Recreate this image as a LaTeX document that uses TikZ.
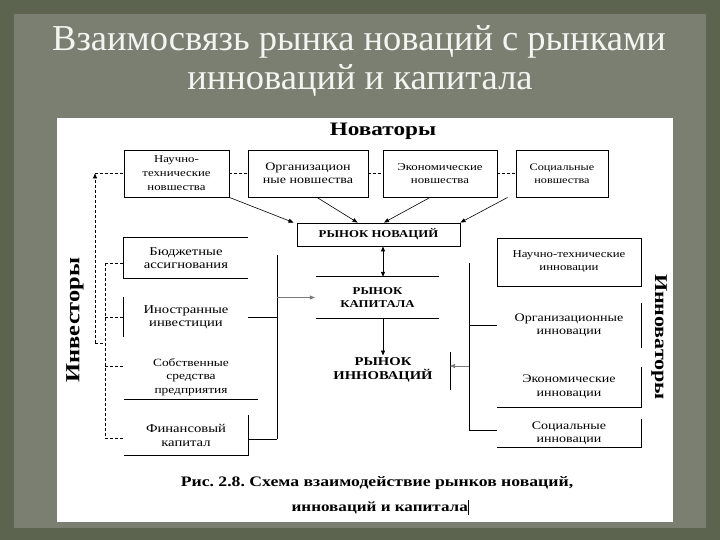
\documentclass[tikz,border=0pt]{standalone}
\usepackage{fontspec}
\setmainfont{Liberation Serif}[BoldFont={Liberation Serif Bold}]
\newfontfamily\dgfont{Liberation Serif}[FakeStretch=1.22, BoldFont={Liberation Serif Bold}, BoldFeatures={FakeStretch=1.22}]
\usetikzlibrary{arrows.meta,calc}
\definecolor{outerbg}{HTML}{5C6450}
\definecolor{innerbg}{HTML}{7B7F72}
\definecolor{titlec}{HTML}{F4F4F0}
\definecolor{thinc}{HTML}{7A7A7A}
\newcommand\dgf[2]{\dgfont\fontsize{#1}{#2}\selectfont}
\newcommand\dgb[2]{\dgfont\bfseries\fontsize{#1}{#2}\selectfont}
\frenchspacing
\begin{document}
\begin{tikzpicture}[x=1pt,y=-1pt,
  cell/.style={inner sep=0pt, align=center},
  boxed/.style={cell, draw=black, line width=0.9pt},
  frame/.style={draw=black, line width=0.9pt},
  wire/.style={draw=black, line width=0.8pt},
  dwire/.style={draw=black, line width=0.6pt, dash pattern=on 3pt off 2pt},
  gwire/.style={draw=thinc, line width=0.6pt},
  tip/.style={-{Triangle[length=5pt,width=4pt]}},
  dtip/.style={{Triangle[length=5pt,width=4pt]}-{Triangle[length=5pt,width=4pt]}}]
\useasboundingbox (0,0) rectangle (720,540);
\fill[outerbg] (0,0) rectangle (720,540);
\fill[innerbg] (14,14) rectangle (706,528);
\fill[white] (57,118) rectangle (673,522);

% title
\node[text=titlec, font=\fontsize{36.5}{40}\selectfont] (t1) at (359,42) {Взаимосвязь рынка новаций с рынками};
\node[text=titlec, font=\fontsize{36.5}{40}\selectfont] (t2) at (360,81) {инноваций и капитала};

% header
\node[cell, font=\dgb{19}{20}] (nov) at (383,131) {Новаторы};

% top boxes
\node[boxed, minimum width=105pt, minimum height=47pt, font=\dgf{10.5}{14}] (n1) at (176.5,173.5) {Научно-\\технические\\новшества};
\node[boxed, minimum width=120pt, minimum height=47pt, font=\dgf{11.5}{13}] (n2) at (308,173.5) {Организацион\\ные новшества};
\node[boxed, minimum width=114pt, minimum height=47pt, font=\dgf{10.5}{12.5}] (n3) at (440,173.5) {Экономические\\новшества};
\node[boxed, minimum width=92pt, minimum height=47pt, font=\dgf{10}{12.5}] (n4) at (562,173.5) {Социальные\\новшества};

% centre
\node[boxed, minimum width=163pt, minimum height=23pt, font=\dgb{10.5}{12}] (rn) at (378.5,234.5) {РЫНОК НОВАЦИЙ};
\node[cell, minimum width=123pt, minimum height=41pt, font=\dgb{10.5}{13.5}] (rk) at (377.5,297.5) {РЫНОК\\КАПИТАЛА};
\node[cell, inner sep=2pt, font=\dgb{12}{14}] (ri) at (383,370) {РЫНОК\\ИННОВАЦИЙ};
\draw[frame] (rk.north west) -- (rk.north east);
\draw[frame] (rk.south west) -- (rk.south east);

% left boxes
\node[cell, minimum width=124pt, minimum height=40pt, font=\dgf{12}{13.5}] (b1) at (186,258) {Бюджетные\\ассигнования};
\node[cell, minimum width=124pt, minimum height=40pt, font=\dgf{12}{13.5}] (b2) at (186,317) {Иностранные\\инвестиции};
\node[cell, minimum width=134pt, minimum height=44pt, font=\dgf{11}{13.5}] (b3) at (191,377) {Собственные\\средства\\предприятия};
\node[cell, minimum width=124pt, minimum height=40pt, font=\dgf{12}{14}] (b4) at (186,435) {Финансовый\\капитал};
\draw[frame] (b1.north east) -- (b1.north west) -- (b1.south west) -- (b1.south east);
\draw[frame] (b2.north west) -- (b2.south west);
\draw[frame] (b3.south west) -- (b3.south east);
\draw[frame] (b4.north east) -- (b4.south east) -- (b4.south west);

% right boxes
\node[boxed, minimum width=144pt, minimum height=48pt, font=\dgf{10.5}{13}] (r1) at (569,262) {Научно-технические\\инновации};
\node[cell, minimum width=144pt, minimum height=45pt, font=\dgf{11.5}{13.5}] (r2) at (569,325.5) {Организационные\\инновации};
\node[cell, minimum width=144pt, minimum height=40pt, font=\dgf{11.5}{14}] (r3) at (569,387) {Экономические\\инновации};
\node[cell, minimum width=144pt, minimum height=28pt, font=\dgf{11.5}{13}] (r4) at (569,433) {Социальные\\инновации};
\draw[frame] (r2.north east) -- (r2.south east);
\draw[frame] (r3.north east) -- (r3.south east) -- (r3.south west);
\draw[frame] (r4.north east) -- (r4.south east) -- (r4.south west);

% side labels
\node[cell, rotate=90, font=\dgb{20}{22}] (inv) at (75,320) {Инвесторы};
\node[cell, rotate=-90, font=\dgb{18}{20}] (innov) at (659,337) {Инноваторы};

% caption
\node[cell, font=\dgb{14.5}{16}] (cap1) at (377,483) {Рис. 2.8. Схема взаимодействие рынков новаций,};
\node[cell, font=\dgb{14}{16}] (cap2) at (380,507) {инноваций и капитала\rule[-3pt]{0.5pt}{15pt}};

% dashed investor links
\coordinate (ia) at (95,173.5);
\coordinate (ib) at (95,343);
\coordinate (ic) at (105,343);
\coordinate (vt) at (105,263);
\coordinate (vb) at (105,438);
\coordinate (s3) at (105,366);
\draw[dwire, tip] (ib) -- (ia);
\draw[dwire] (ia) -- (n1.west);
\draw[dwire] (n1.east) -- (n2.west);
\draw[dwire] (n2.east) -- (n3.west);
\draw[dwire] (n3.east) -- (n4.west);
\draw[dwire] (ib) -- (ic);
\draw[dwire] (vt) -- (vb);
\draw[dwire] (vt) -- (vt -| b1.west);
\draw[dwire] (vt |- b2.west) -- (b2.west);
\draw[dwire] (s3) -- (s3 -| b3.west);
\draw[dwire] (vb) -- (vb -| b4.west);

% arrows into market of novations
\draw[wire, line width=0.6pt, tip] (n1.south east) -- ($(rn.north west)+(-3,0)$);
\draw[wire, line width=0.6pt, tip] ($(n2.south)+(9,0)$) -- ($(rn.north west)+(61,0)$);
\draw[wire, line width=0.6pt, tip] ($(n3.south)+(-10,0)$) -- ($(rn.north)+(5.5,0)$);
\draw[wire, line width=0.6pt, tip] ($(n4.south west)+(-8,0)$) -- (rn.north east);

% centre column
\draw[wire, dtip] (rn.south -| ri) -- (rk.north -| ri);
\draw[wire, tip] (rk.south -| ri) -- (ri.north);

% left trunk
\coordinate (lt) at (277,255);
\coordinate (lb) at (277,439);
\draw[wire] (lt) -- (lb);
\draw[wire] (b2.east) -- (b2.east -| lt);
\draw[wire] (b4.east |- lb) -- (lb);
\draw[gwire, tip] (lt |- rk.west) -- ($(rk.west)+(-1,0)$);

% right trunk
\coordinate (rt) at (469,263);
\coordinate (rb) at (469,430);
\coordinate (ra) at (469,366);
\coordinate (bt) at (450,352);
\coordinate (bb) at (450,390);
\draw[wire] (bt) -- (bb);
\draw[wire] (rt) -- (rb);
\draw[wire] (rt |- r2.west) -- (r2.west);
\draw[wire] (rb) -- (rb -| r4.west);
\draw[gwire, tip] (ra) -- (ra -| bt);
\end{tikzpicture}
\end{document}
